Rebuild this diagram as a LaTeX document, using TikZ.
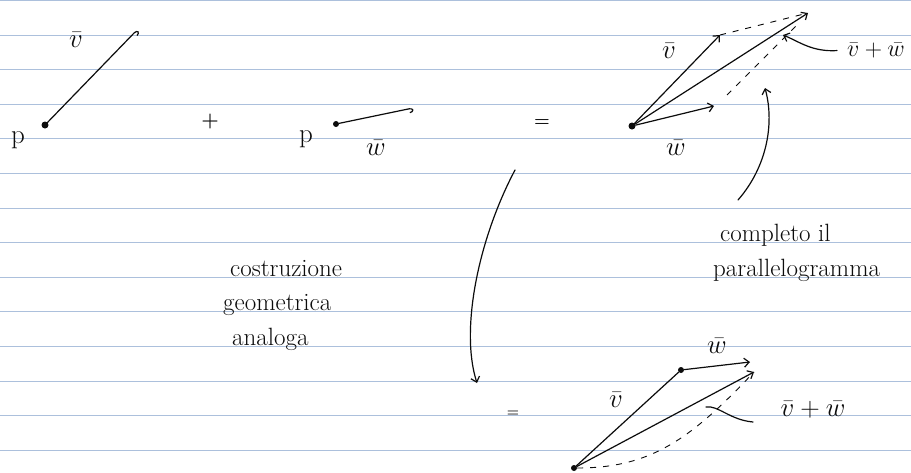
\RequirePackage{fix-cm}
\documentclass[tikz,border=0pt]{standalone}
\usepackage{amsmath}
\usepackage{tikz}
\usetikzlibrary{positioning,arrows.meta}

\begin{document}
\begin{tikzpicture}[x=1pt, y=-1pt, node distance=4pt, every node/.style={align=center}]
    % colori del foglio
    \definecolor{ruleblue}{RGB}{172,192,220}  % righe
    \definecolor{ink}{RGB}{12,12,12}          % inchiostro

    % stili
    \tikzstyle{rigo} = [draw=ruleblue, line width=1.6pt]
    \tikzstyle{punto} = [circle, fill=ink, inner sep=0pt, minimum size=7pt]
    \tikzstyle{tratto} = [draw=ink, line width=1.2pt, line cap=round]
    \tikzstyle{freccia} = [tratto, -{Straight Barb[length=5pt,width=9pt]}]
    \tikzstyle{uncino} = [tratto, -{Hooks[right,length=4pt,width=9pt]}]
    \tikzstyle{tratteggio} = [draw=ink, line width=0.9pt, dash pattern=on 6pt off 7pt]
    \tikzstyle{simbolo} = [font=\fontsize{27}{30}\selectfont, text=ink, inner sep=0pt]
    \tikzstyle{somma} = [font=\fontsize{24}{28}\selectfont, text=ink, inner sep=0pt]
    \tikzstyle{nota} = [font=\fontsize{25}{30}\selectfont, text=ink, inner sep=0pt, anchor=base west]

    \useasboundingbox (0,0) rectangle (911,472);
    \fill[white] (0,0) rectangle (911,472);

    % righe del quaderno
    \foreach \k in {0,...,13}{
      \pgfmathsetmacro{\yr}{round(34.6*\k)+0.5}
      \draw[rigo] (0,\yr) -- (911,\yr);
    }

    % vettore v applicato in p
    \node[punto] (pA) at (45,125) {};
    \coordinate (vA) at (137,30);
    \draw[uncino] (pA) -- (vA);
    \node[simbolo] (labvA) at (76,40) {$\bar v$};
    \node[simbolo] (nomeA) at (18,140) {p};

    \node[simbolo, font=\fontsize{20}{24}\selectfont\bfseries] (piu) at (210,122) {+};

    % vettore w applicato in p
    \node[punto, minimum size=6pt] (pB) at (336,124) {};
    \coordinate (wB) at (413,108);
    \draw[uncino] (pB) -- (wB);
    \node[simbolo] (labwB) at (376,148) {$\bar w$};
    \node[simbolo] (nomeB) at (306,139) {p};

    \node[simbolo, font=\fontsize{18}{20}\selectfont\bfseries] (uguale) at (542,123) {=};

    % regola del parallelogramma
    \node[punto] (oC) at (632,126) {};
    \coordinate (vC) at (720,35);
    \coordinate (wC) at (714,106);
    \coordinate (sC) at (808,13);
    \draw[freccia] (oC) -- (vC);
    \draw[freccia] (oC) -- (wC);
    \draw[freccia] (oC) -- (sC);
    \coordinate (dC1) at (727,95);
    \coordinate (dC2) at (800,22);
    \draw[tratteggio] (vC) -- (sC);
    \draw[tratteggio] (dC1) -- (dC2);
    \node[simbolo] (labvC) at (669,51) {$\bar v$};
    \node[simbolo] (labwC) at (676,148) {$\bar w$};
    \node[somma] (labsC) at (876,50) {$\bar v+\bar w$};
    \coordinate (puntaC) at (783,35);
    \draw[freccia, shorten <=10pt] (labsC.west) .. controls (812,52) and (800,42) .. (puntaC);

    % completo il parallelogramma
    \node[nota] (completo) at (720,241) {completo il};
    \node[nota] (parall) at (713,276) {parallelogramma};
    \coordinate (codaP) at (738,200);
    \coordinate (puntaP) at (765,88);
    \draw[freccia] (codaP) .. controls (766,168) and (775,125) .. (puntaP);

    % costruzione geometrica analoga
    \node[nota] (costr) at (230,276) {costruzione};
    \node[nota] (geom) at (223,310) {geometrica};
    \node[nota] (anal) at (232,345) {analoga};
    \coordinate (codaL) at (515,170);
    \coordinate (puntaL) at (477,383);
    \draw[freccia] (codaL) .. controls (478,240) and (460,330) .. (puntaL);

    \node[simbolo, font=\fontsize{14}{16}\selectfont\bfseries] (ugualeB) at (513,414) {=};

    % regola del triangolo
    \node[punto, minimum size=6pt] (oD) at (574,468) {};
    \node[punto, minimum size=6pt] (vD) at (681,370) {};
    \coordinate (wD) at (750,362);
    \coordinate (sD) at (754,372);
    \draw[tratto] (oD) -- (vD);
    \draw[freccia] (vD) -- (wD);
    \draw[freccia] (oD) -- (sD);
    \draw[tratteggio] (oD) .. controls (650,468) and (690,440) .. (sD);
    \node[simbolo] (labvD) at (616,400) {$\bar v$};
    \node[simbolo] (labwD) at (717,346) {$\bar w$};
    \node[somma, font=\fontsize{27}{30}\selectfont] (labsD) at (813,410) {$\bar v+\bar w$};
    \coordinate (codaD) at (753,422);
    \coordinate (puntaD) at (706,407);
    \draw[tratto] (codaD) .. controls (730,420) and (718,405) .. (puntaD);
\end{tikzpicture}
\end{document}
